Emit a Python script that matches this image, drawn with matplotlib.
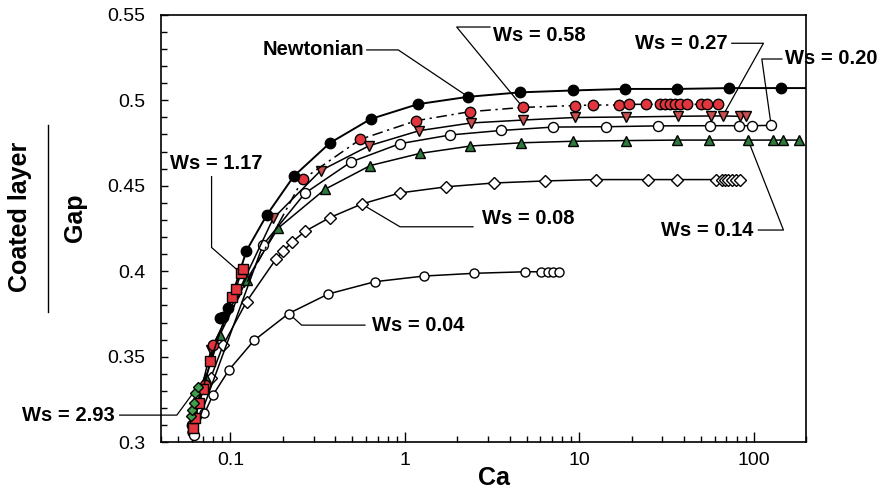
import matplotlib
matplotlib.use("Agg")
import matplotlib.pyplot as plt
from matplotlib.ticker import FixedLocator, LogLocator, FuncFormatter, MultipleLocator

plt.rcParams['font.family'] = ['Liberation Sans', 'DejaVu Sans']

# ---- data: coated-layer / gap ratio vs capillary number Ca ----
ca_newt = [0.0871, 0.0909, 0.0971, 0.1236, 0.162, 0.231, 0.372, 0.637, 1.19, 2.31,
           4.58, 9.18, 18.3, 36.6, 72.7, 143.5]
h_newt = [0.3725, 0.3734, 0.3783, 0.412, 0.433, 0.4556, 0.475, 0.489, 0.4977, 0.502,
          0.5046, 0.5057, 0.5066, 0.5066, 0.5071, 0.5071]

ca_058 = [0.0602, 0.0714, 0.0797, 0.2594, 0.5555, 1.16, 2.357, 4.76, 9.47, 12.06, 16.9,
          19.2, 24.2, 29.1, 31.1, 33.2, 35.5, 37.9, 41.3, 50.0, 53.9, 62.9]
h_058 = [0.310, 0.3334, 0.357, 0.4537, 0.4771, 0.488, 0.4933, 0.4958, 0.4969, 0.4972,
         0.4972, 0.4976, 0.4976, 0.4976, 0.4976, 0.4976, 0.4976, 0.4976, 0.4976, 0.4976,
         0.4976, 0.4976]

ca_027 = [0.0615, 0.0773, 0.176, 0.329, 0.6253, 1.211, 2.40, 4.75, 9.41, 18.66, 37.1,
          56.9, 66.6, 84.1, 91.0]
h_027 = [0.3125, 0.3539, 0.4309, 0.4588, 0.4734, 0.4822, 0.4867, 0.4884, 0.4899, 0.4902,
         0.4906, 0.4908, 0.4908, 0.4906, 0.4906]

ca_020 = [0.0615, 0.1536, 0.2676, 0.4912, 0.9387, 1.829, 3.555, 7.087, 14.17, 28.2,
          56.4, 83.0, 97.8, 126.2]
h_020 = [0.3045, 0.4153, 0.4456, 0.4639, 0.4746, 0.4797, 0.4823, 0.4843, 0.4845, 0.4850,
         0.4851, 0.4851, 0.4851, 0.4853]

ca_014 = [0.062, 0.0724, 0.0871, 0.1239, 0.1873, 0.3484, 0.6339, 1.222, 2.376, 4.62,
          9.26, 18.58, 36.6, 55.5, 93.1, 129.6, 148.5, 183.4]
h_014 = [0.318, 0.3378, 0.3629, 0.3949, 0.4251, 0.4479, 0.4618, 0.4689, 0.4732, 0.4751,
         0.4760, 0.4764, 0.4767, 0.4767, 0.4767, 0.4767, 0.4767, 0.4767]

ca_008 = [0.0770, 0.0909, 0.1239, 0.1824, 0.2014, 0.2254, 0.2693, 0.3723, 0.5659, 0.9387,
          1.735, 3.236, 6.375, 12.42, 24.95, 36.6, 61.2, 65.8, 68.7, 71.8, 75.1, 78.9, 83.8]
h_008 = [0.3375, 0.3569, 0.3823, 0.4071, 0.4118, 0.4171, 0.4235, 0.4314, 0.4393, 0.4458,
         0.4494, 0.4516, 0.4528, 0.4536, 0.4536, 0.4536, 0.4536, 0.4536, 0.4536, 0.4536,
         0.4536, 0.4536, 0.4536]

ca_004 = [0.0603, 0.071, 0.0794, 0.0983, 0.1368, 0.216, 0.364, 0.6745, 1.289, 2.495,
          4.894, 6.044, 6.658, 7.112, 7.699]
h_004 = [0.306, 0.3169, 0.3276, 0.3424, 0.3596, 0.3753, 0.3867, 0.3939, 0.3972, 0.3988,
         0.3997, 0.3997, 0.3997, 0.3997, 0.3997]

ca_117 = [0.0609, 0.063, 0.066, 0.0696, 0.0768, 0.102, 0.1075, 0.1149, 0.1179]
h_117 = [0.3083, 0.3143, 0.3229, 0.3311, 0.3475, 0.3849, 0.3896, 0.3989, 0.4013]

ca_293 = [0.0593, 0.0605, 0.0617, 0.063, 0.0651]
h_293 = [0.3153, 0.3188, 0.3229, 0.3288, 0.3326]

x_ticks = [0.1, 1, 10, 100]
y_ticks = [0.3, 0.35, 0.4, 0.45, 0.5, 0.55]

# ---- figure ----
W, H = 881, 492
fig = plt.figure(figsize=(W / 100, H / 100), dpi=100)
ax = fig.add_axes([161 / W, 49.7 / H, 645 / W, 427.6 / H])

red = '#e2353d'
red_tri = '#c9504f'
green_tri = '#2d7a3c'
green_dia = '#3f9f4a'
lw = 1.1
mew = 1.0

# Ws = 0.04
ax.plot(ca_004, h_004, '-', color='black', lw=lw, marker='o', ms=6.5,
        mfc='white', mec='black', mew=mew, zorder=3)
# Ws = 0.08
ax.plot(ca_008, h_008, '-', color='black', lw=lw, marker='D', ms=6.6,
        mfc='white', mec='black', mew=mew, zorder=3)
# Ws = 0.14
ax.plot(ca_014, h_014, '-', color='black', lw=lw, marker='^', ms=7.5,
        mfc=green_tri, mec='black', mew=mew, zorder=3)
# Ws = 0.20
ax.plot(ca_020, h_020, '-', color='black', lw=lw, marker='o', ms=7.2,
        mfc='white', mec='black', mew=mew, zorder=3)
# Ws = 0.27
ax.plot(ca_027, h_027, '-', color='black', lw=lw, marker='v', ms=7.5,
        mfc=red_tri, mec='black', mew=mew, zorder=3)
# Ws = 0.58 (dash-dot)
ax.plot(ca_058, h_058, color='black', lw=lw, ls=(0, (7, 3, 1.5, 3)), marker='o', ms=7.5,
        mfc=red, mec='black', mew=mew, zorder=3)
# Newtonian: curve continues to the right frame
ax.plot(ca_newt + [200], h_newt + [h_newt[-1]], '-', color='black', lw=1.4,
        marker='o', ms=7.5, mfc='black', mec='black', markevery=list(range(len(ca_newt))),
        zorder=3)
# Ws = 1.17
ax.plot(ca_117, h_117, '-', color='black', lw=lw, marker='s', ms=7.5,
        mfc=red, mec='black', mew=mew, zorder=4)
# Ws = 2.93
ax.plot(ca_293, h_293, '-', color='black', lw=lw, marker='D', ms=5.2,
        mfc=green_dia, mec='black', mew=mew, zorder=4)

# ---- axes ----
ax.set_xscale('log')
ax.set_xlim(0.04, 200)
ax.set_ylim(0.3, 0.55)
ax.xaxis.set_major_locator(FixedLocator(x_ticks))
ax.xaxis.set_minor_locator(LogLocator(base=10, subs=range(2, 10)))
ax.yaxis.set_major_locator(FixedLocator(y_ticks))
ax.yaxis.set_minor_locator(MultipleLocator(0.01))
fmt = FuncFormatter(lambda v, p: '%g' % v)
ax.xaxis.set_major_formatter(fmt)
ax.yaxis.set_major_formatter(fmt)
ax.xaxis.set_minor_formatter(FuncFormatter(lambda v, p: ''))
ax.tick_params(which='both', direction='in', top=False, right=False, labelsize=14,
               width=1.0, color='black')
ax.tick_params(axis='x', which='major', length=7, pad=7)
ax.tick_params(axis='x', which='minor', length=4)
ax.tick_params(axis='y', which='major', length=5, pad=11)
ax.tick_params(axis='y', which='minor', length=4)
for s in ax.spines.values():
    s.set_linewidth(1.2)

# ---- leader labels ----
lab = dict(fontsize=14.5, fontweight='bold', color='black', clip_on=False)
leader = dict(color='black', lw=0.9, clip_on=False, zorder=2)


def lead(xs, ys):
    ax.plot(xs, ys, **leader)


ax.text(0.583, 0.5294, 'Newtonian', ha='right', va='center', **lab)
lead([0.605, 0.918, ca_newt[9]], [0.5294, 0.5294, h_newt[9]])

ax.text(3.21, 0.5378, 'Ws = 0.58', ha='left', va='center', **lab)
lead([3.08, 1.985, ca_058[7]], [0.5428, 0.5428, h_058[7]])

ax.text(70.6, 0.5333, 'Ws = 0.27', ha='right', va='center', **lab)
lead([75.1, 114, ca_027[12]], [0.5333, 0.5333, h_027[12]])

ax.text(151.8, 0.5241, 'Ws = 0.20', ha='left', va='center', **lab)
lead([145.3, 111.6, ca_020[13]], [0.5241, 0.5241, h_020[13]])

ax.text(99.5, 0.4241, 'Ws = 0.14', ha='right', va='center', **lab)
lead([106.7, 148.5, ca_014[14]], [0.4241, 0.4241, h_014[14]])

ax.text(2.762, 0.4311, 'Ws = 0.08', ha='left', va='center', **lab)
lead([ca_008[8], 0.939, 2.462], [h_008[8], 0.426, 0.426])

ax.text(0.6457, 0.3685, 'Ws = 0.04', ha='left', va='center', **lab)
lead([ca_004[5], 0.2563, 0.591], [h_004[5], 0.3685, 0.3685])

ax.text(0.045, 0.4631, 'Ws = 1.17', ha='left', va='center', **lab)
lead([0.078, 0.078, ca_117[7]], [0.4553, 0.4139, h_117[7]])

ax.text(0.02176, 0.3159, 'Ws = 2.93', ha='right', va='center', **lab)
lead([0.0232, 0.0493, ca_293[4]], [0.3159, 0.3159, h_293[4]])

# ---- axis titles ----
fig.text(494 / W, 1 - 485 / H, 'Ca', ha='center', va='baseline',
         fontsize=18, fontweight='bold')
fig.text(20 / W, 1 - 217 / H, 'Coated layer', rotation=90, ha='center', va='center',
         fontsize=18, fontweight='bold')
fig.text(75 / W, 1 - 218 / H, 'Gap', rotation=90, ha='center', va='center',
         fontsize=18, fontweight='bold')
fig.add_artist(plt.Line2D([48 / W, 48 / W], [1 - 125 / H, 1 - 312 / H],
                          color='black', lw=1.0, transform=fig.transFigure))

fig.savefig('out.png', dpi=100)
